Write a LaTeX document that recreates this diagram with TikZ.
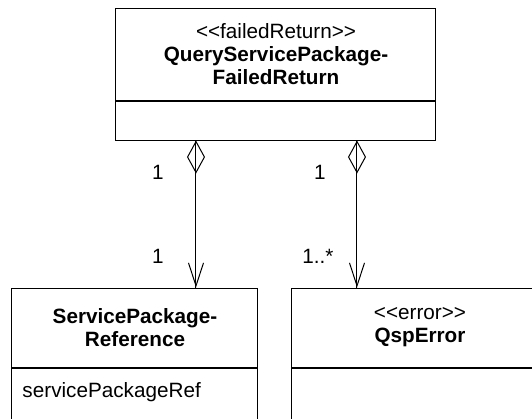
\documentclass[tikz,border=0pt]{standalone}
\usepackage{fontspec}
\setmainfont{Liberation Sans}
\usepackage{tikz}
\usetikzlibrary{arrows.meta, positioning}
\newcommand{\stereo}[1]{<\kern0pt<#1>\kern0pt>}

\begin{document}
\begin{tikzpicture}[x=0.5pt,y=-0.5pt,line width=0.5pt,
          every node/.style={font=\fontsize{10.35}{11.5}\selectfont},
          classhead/.style={draw,rectangle,inner sep=0pt,align=center},
          classbody/.style={draw,rectangle,inner sep=0pt},
          mult/.style={anchor=base,inner sep=0pt},
          aggr/.style={{Diamond[open,length=16.5pt,width=9pt]}-},
          nav/.style={-{Straight Barb[length=11.5pt,width=7.5pt]}}]
        \useasboundingbox (0,0) rectangle (532,419);
        \clip (0,0) rectangle (532,419);
        % classes
        \node[classhead,minimum width=160pt,minimum height=46pt] (frhead) at (276,54)
          {\stereo{failedReturn}\\\textbf{QueryServicePackage-}\\\textbf{FailedReturn}};
        \node[classbody,minimum width=160pt,minimum height=19.5pt,below=0pt of frhead] (frbody) {};
        \node[classhead,minimum width=123pt,minimum height=39.5pt] (sphead) at (135,327.5)
          {\textbf{ServicePackage-}\\\textbf{Reference}};
        \node[classbody,minimum width=123pt,minimum height=40pt,below=0pt of sphead] (spbody) {};
        \node[anchor=base west,inner sep=0pt] (spattr) at (22,397) {servicePackageRef};
        \node[classhead,minimum width=128pt,minimum height=39.5pt] (qehead) at (420,327.5)
          {\stereo{error}\\\textbf{QspError}};
        \node[classbody,minimum width=128pt,minimum height=40pt,below=0pt of qehead] (qebody) {};
        % associations
        \coordinate (c1) at (196,0);
        \coordinate (c2) at (357,0);
        \draw[nav] (frbody.south -| c1) -- (sphead.north -| c1);
        \draw[aggr] (frbody.south -| c1) -- (sphead.north -| c1);
        \draw[nav] (frbody.south -| c2) -- (qehead.north -| c2);
        \draw[aggr] (frbody.south -| c2) -- (qehead.north -| c2);
        \node[mult] (m1) at (158,179) {1};
        \node[mult] (m2) at (320,179) {1};
        \node[mult] (m3) at (158,263) {1};
        \node[mult] (m4) at (318,263) {1..*};
      \end{tikzpicture}
\end{document}
